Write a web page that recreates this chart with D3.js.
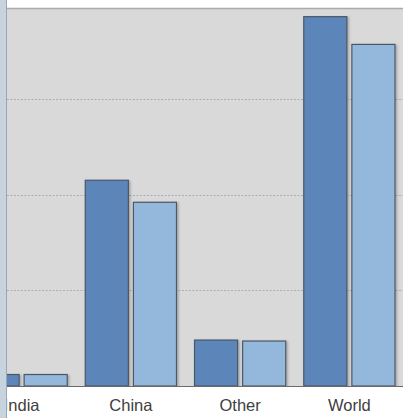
<!DOCTYPE html>
<html>
<head>
<meta charset="utf-8">
<script src="https://cdn.jsdelivr.net/npm/d3@7"></script>
<style>
  html, body { margin: 0; padding: 0; background: #ffffff; }
  svg { display: block; }
  .cat-label { font-family: "Liberation Sans", Arial, Helvetica, sans-serif; font-size: 16.5px; fill: #404040; }
</style>
</head>
<body>
<svg id="chart" width="403" height="418"></svg>
<script>
// Categories along the x axis and the two series drawn for each.
const categories = ["India", "China", "Other", "World"];
const seriesNames = ["first", "second"];
const firstValues = [0.12, 2.15, 0.48, 3.86];
const secondValues = [0.12, 1.92, 0.47, 3.57];
const gridTicks = [1, 2, 3];
const yMax = 3.94;

const colors = { first: "#5b85b9", second: "#93b8dc" };

const W = 403, H = 418;
const plot = { left: 7, top: 9, right: 403, bottom: 386 };

const svg = d3.select("#chart");

const defs = svg.append("defs");
const shadow = defs.append("filter").attr("id", "barShadow")
  .attr("x", "-10%").attr("y", "-10%").attr("width", "130%").attr("height", "130%");
shadow.append("feDropShadow")
  .attr("dx", 1.5).attr("dy", 1).attr("stdDeviation", 0.8)
  .attr("flood-color", "#000").attr("flood-opacity", 0.25);
defs.append("clipPath").attr("id", "plotClip")
  .append("rect")
  .attr("x", plot.left).attr("y", plot.top)
  .attr("width", plot.right - plot.left).attr("height", plot.bottom - plot.top);

// Scales
const x0 = d3.scaleBand()
  .domain(categories)
  .range([-33, 404])
  .paddingInner(0.165)
  .paddingOuter(0.0825);

const x1 = d3.scaleBand()
  .domain(seriesNames)
  .range([0, x0.bandwidth()])
  .paddingInner(5 / 48);

const y = d3.scaleLinear().domain([0, yMax]).range([plot.bottom, plot.top]);

// Plot background
svg.append("rect")
  .attr("x", plot.left).attr("y", plot.top)
  .attr("width", plot.right - plot.left).attr("height", plot.bottom - plot.top)
  .attr("fill", "#d9d9d9");

// Top border of the plot area
svg.append("line")
  .attr("x1", plot.left).attr("x2", plot.right)
  .attr("y1", plot.top - 0.5).attr("y2", plot.top - 0.5)
  .attr("stroke", "#ababab").attr("stroke-width", 1.5);

// Dotted gridlines
svg.append("g").selectAll("line")
  .data(gridTicks)
  .join("line")
  .attr("x1", plot.left).attr("x2", plot.right)
  .attr("y1", d => Math.round(y(d)) + 0.5)
  .attr("y2", d => Math.round(y(d)) + 0.5)
  .attr("stroke", "#adadad")
  .attr("stroke-width", 1)
  .attr("stroke-dasharray", "2,1.5");

// Bars
const rows = categories.map((c, i) => ({
  category: c,
  values: [
    { key: "first", value: firstValues[i] },
    { key: "second", value: secondValues[i] }
  ]
}));

const barLayer = svg.append("g").attr("clip-path", "url(#plotClip)");
barLayer.selectAll("g")
  .data(rows)
  .join("g")
  .attr("transform", d => `translate(${x0(d.category)},0)`)
  .selectAll("rect")
  .data(d => d.values)
  .join("rect")
  .attr("x", d => x1(d.key))
  .attr("width", x1.bandwidth())
  .attr("y", d => y(d.value))
  .attr("height", d => plot.bottom - y(d.value))
  .attr("fill", d => colors[d.key])
  .attr("stroke", "#4a5868")
  .attr("stroke-width", 1.2)
  .attr("filter", "url(#barShadow)");

// Baseline
svg.append("line")
  .attr("x1", plot.left).attr("x2", plot.right)
  .attr("y1", plot.bottom + 0.5).attr("y2", plot.bottom + 0.5)
  .attr("stroke", "#6b6b6b").attr("stroke-width", 1);

// White area under the plot
svg.append("rect")
  .attr("x", plot.left).attr("y", plot.bottom + 1)
  .attr("width", W).attr("height", H - plot.bottom)
  .attr("fill", "#ffffff");

// Category labels
svg.append("g").selectAll("text")
  .data(categories)
  .join("text")
  .attr("class", "cat-label")
  .attr("x", d => x0(d) + x0.bandwidth() / 2)
  .attr("y", 411)
  .attr("text-anchor", "middle")
  .text(d => d);

// Left strip
svg.append("rect")
  .attr("x", 0).attr("y", 0)
  .attr("width", plot.left - 1).attr("height", H)
  .attr("fill", "#c7d4dd");
svg.append("line")
  .attr("x1", plot.left - 0.5).attr("x2", plot.left - 0.5)
  .attr("y1", 0).attr("y2", H)
  .attr("stroke", "#9aa7b0").attr("stroke-width", 1);
</script>
</body>
</html>
